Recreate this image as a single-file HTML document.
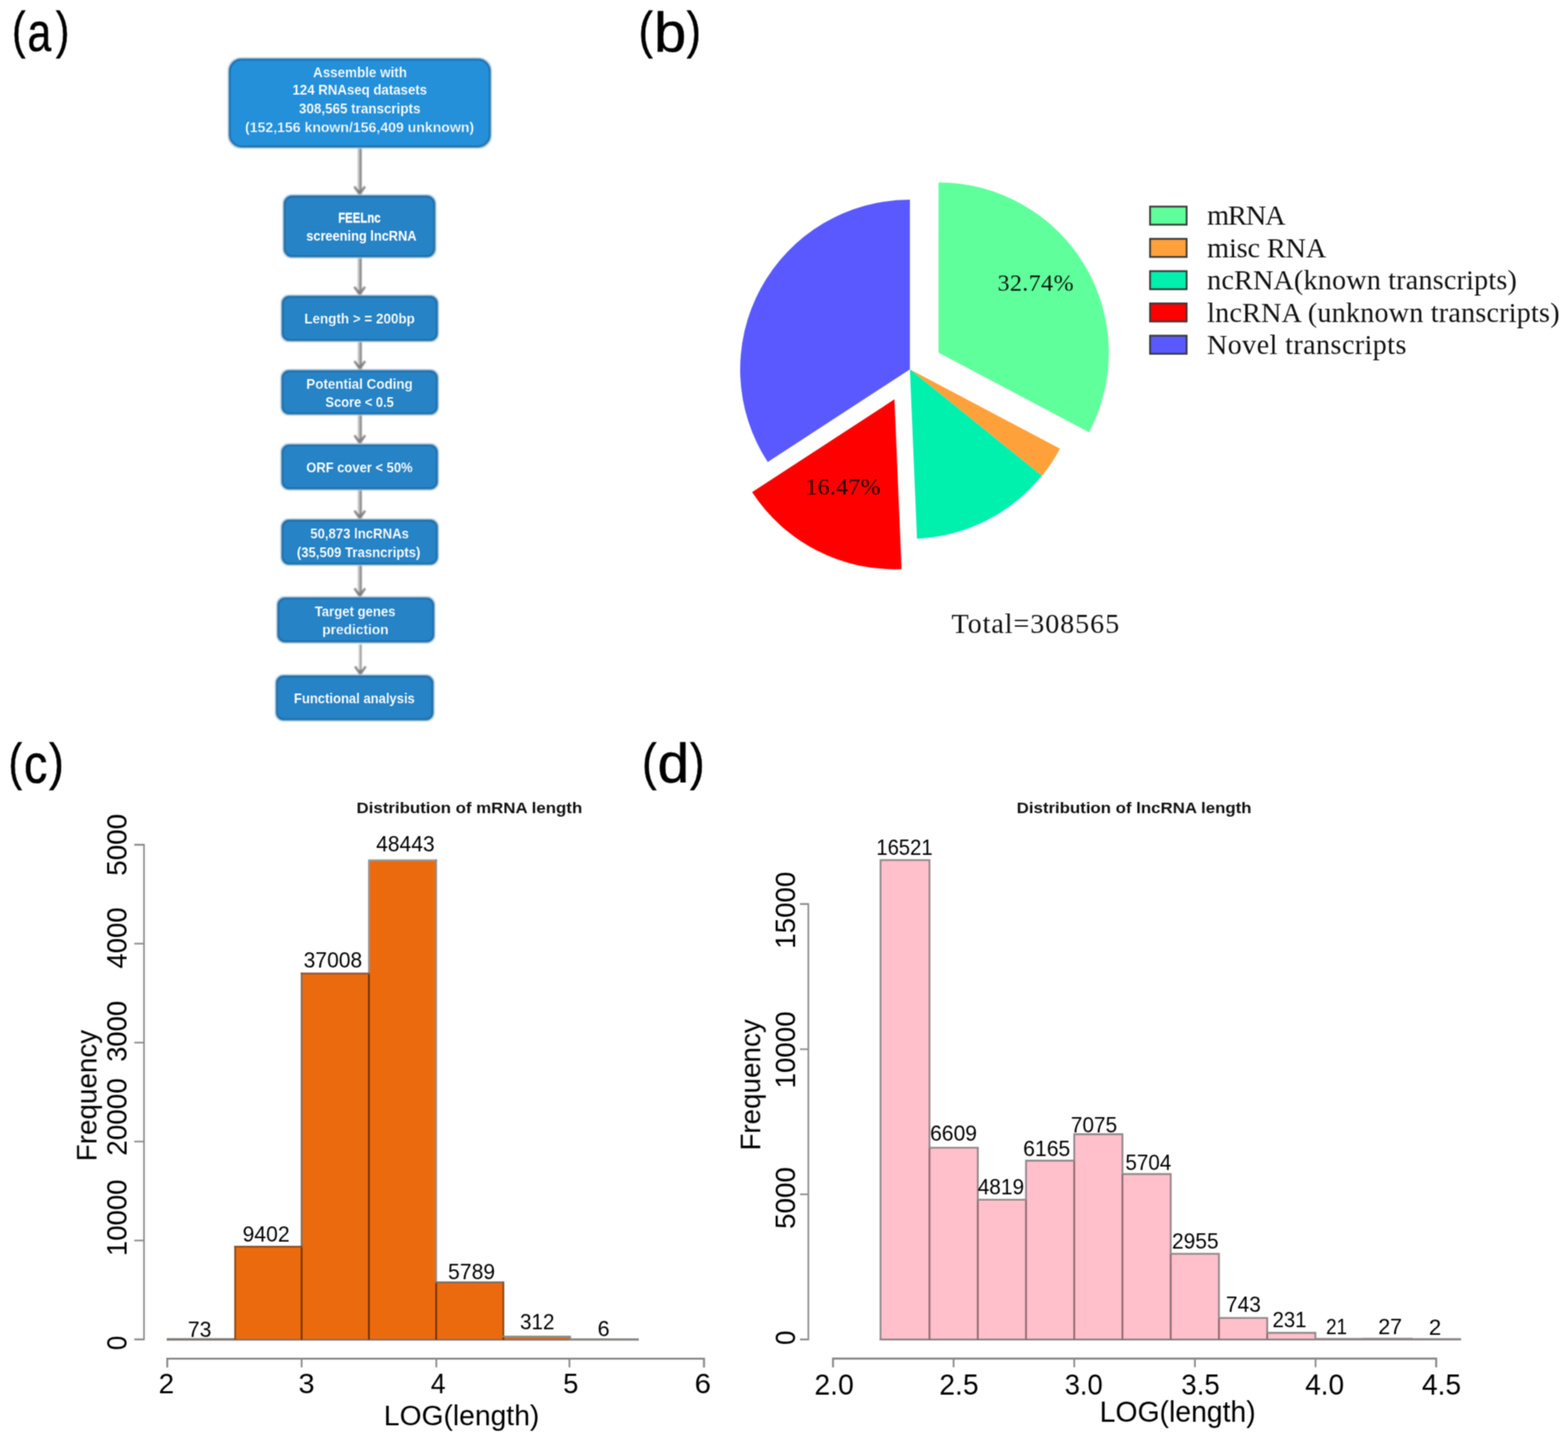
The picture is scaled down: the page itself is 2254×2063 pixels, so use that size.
<!DOCTYPE html>
<html lang="en">
<head>
<meta charset="utf-8">
<title>lncRNA identification pipeline, transcript composition and length distributions</title>
<style>
html,body{margin:0;padding:0;background:#fff;}
body{width:2254px;height:2063px;overflow:hidden;}
svg{display:block;}
text{white-space:pre;}
</style>
</head>
<body>
<svg width="2254" height="2063" viewBox="0 0 2254 2063">
<rect width="2254" height="2063" fill="#fff"/>
<defs>
<filter id="soft-a" x="-5%" y="-5%" width="110%" height="110%" color-interpolation-filters="sRGB"><feGaussianBlur stdDeviation="0.9"/></filter>
<filter id="soft-b" x="-5%" y="-5%" width="110%" height="110%" color-interpolation-filters="sRGB"><feConvolveMatrix order="3" kernelMatrix="1 2 1 2 4 2 1 2 1" divisor="16" edgeMode="duplicate" preserveAlpha="false"/></filter>
<filter id="soft-c" x="-5%" y="-5%" width="110%" height="110%" color-interpolation-filters="sRGB"><feConvolveMatrix order="3" kernelMatrix="1 2 1 2 4 2 1 2 1" divisor="16" edgeMode="duplicate" preserveAlpha="false"/></filter>
<filter id="soft-l" x="-5%" y="-5%" width="110%" height="110%" color-interpolation-filters="sRGB"><feConvolveMatrix order="3" kernelMatrix="1 2 1 2 4 2 1 2 1" divisor="16" edgeMode="duplicate" preserveAlpha="false"/></filter>
<filter id="soft-t" x="-5%" y="-5%" width="110%" height="110%" color-interpolation-filters="sRGB"><feConvolveMatrix order="3" kernelMatrix="1 2 1 2 4 2 1 2 1" divisor="16" edgeMode="duplicate" preserveAlpha="false"/></filter>
</defs>
<g id="panel-a">
<g filter="url(#soft-a)">
<path d="M518.40 210.9 V282.1" stroke="#858585" stroke-width="3.0" fill="none"/>
<path d="M515.50 210.9 V276.1" stroke="#c6c6c6" stroke-width="2.9" fill="none"/>
<path d="M509.40 268.1 L517.00 279.1 L524.60 268.1" fill="none" stroke="#808080" stroke-width="3.2"/>
<path d="M512.80 273.1 H521.20 L517.00 280.6 Z" fill="#808080"/>
<path d="M518.40 368.7 V426.3" stroke="#858585" stroke-width="3.0" fill="none"/>
<path d="M515.50 368.7 V420.3" stroke="#c6c6c6" stroke-width="2.9" fill="none"/>
<path d="M509.40 412.3 L517.00 423.3 L524.60 412.3" fill="none" stroke="#808080" stroke-width="3.2"/>
<path d="M512.80 417.3 H521.20 L517.00 424.8 Z" fill="#808080"/>
<path d="M518.60 489.3 V533.2" stroke="#858585" stroke-width="3.0" fill="none"/>
<path d="M515.70 489.3 V527.2" stroke="#c6c6c6" stroke-width="2.9" fill="none"/>
<path d="M509.60 519.2 L517.20 530.2 L524.80 519.2" fill="none" stroke="#808080" stroke-width="3.2"/>
<path d="M513.00 524.2 H521.40 L517.20 531.7 Z" fill="#808080"/>
<path d="M518.60 594.8 V639.9" stroke="#858585" stroke-width="3.0" fill="none"/>
<path d="M515.70 594.8 V633.9" stroke="#c6c6c6" stroke-width="2.9" fill="none"/>
<path d="M509.60 625.9 L517.20 636.9 L524.80 625.9" fill="none" stroke="#808080" stroke-width="3.2"/>
<path d="M513.00 630.9 H521.40 L517.20 638.4 Z" fill="#808080"/>
<path d="M518.60 702.5 V748.1" stroke="#858585" stroke-width="3.0" fill="none"/>
<path d="M515.70 702.5 V742.1" stroke="#c6c6c6" stroke-width="2.9" fill="none"/>
<path d="M509.60 734.1 L517.20 745.1 L524.80 734.1" fill="none" stroke="#808080" stroke-width="3.2"/>
<path d="M513.00 739.1 H521.40 L517.20 746.6 Z" fill="#808080"/>
<path d="M518.60 810.7 V859.9" stroke="#858585" stroke-width="3.0" fill="none"/>
<path d="M515.70 810.7 V853.9" stroke="#c6c6c6" stroke-width="2.9" fill="none"/>
<path d="M509.60 845.9 L517.20 856.9 L524.80 845.9" fill="none" stroke="#808080" stroke-width="3.2"/>
<path d="M513.00 850.9 H521.40 L517.20 858.4 Z" fill="#808080"/>
<path d="M518.60 926.5 V972.1" stroke="#858585" stroke-width="2.2" fill="none"/>
<path d="M516.50 926.5 V966.1" stroke="#d0d0d0" stroke-width="2.0" fill="none"/>
<path d="M510.40 958.1 L518.00 969.1 L525.60 958.1" fill="none" stroke="#808080" stroke-width="3.2"/>
<path d="M513.80 963.1 H522.20 L518.00 970.6 Z" fill="#808080"/>
<rect x="328.40" y="83.70" width="377.50" height="128.80" rx="17.6" fill="none" stroke="#bcd6ea" stroke-width="2.4"/>
<rect x="330.10" y="85.40" width="374.10" height="125.40" rx="17" fill="#2490DA" stroke="#17629a" stroke-width="2.2"/>
<rect x="407.20" y="280.50" width="219.00" height="89.80" rx="11.6" fill="none" stroke="#bcd6ea" stroke-width="2.4"/>
<rect x="408.90" y="282.20" width="215.60" height="86.40" rx="11" fill="#2683C5" stroke="#17629a" stroke-width="2.2"/>
<rect x="404.40" y="424.70" width="225.50" height="66.20" rx="10.6" fill="none" stroke="#bcd6ea" stroke-width="2.4"/>
<rect x="406.10" y="426.40" width="222.10" height="62.80" rx="10" fill="#2683C5" stroke="#17629a" stroke-width="2.2"/>
<rect x="404.10" y="531.60" width="225.80" height="64.80" rx="10.6" fill="none" stroke="#bcd6ea" stroke-width="2.4"/>
<rect x="405.80" y="533.30" width="222.40" height="61.40" rx="10" fill="#2683C5" stroke="#17629a" stroke-width="2.2"/>
<rect x="404.10" y="638.30" width="225.80" height="65.80" rx="10.6" fill="none" stroke="#bcd6ea" stroke-width="2.4"/>
<rect x="405.80" y="640.00" width="222.40" height="62.40" rx="10" fill="#2683C5" stroke="#17629a" stroke-width="2.2"/>
<rect x="404.10" y="746.50" width="225.80" height="65.80" rx="10.6" fill="none" stroke="#bcd6ea" stroke-width="2.4"/>
<rect x="405.80" y="748.20" width="222.40" height="62.40" rx="10" fill="#2683C5" stroke="#17629a" stroke-width="2.2"/>
<rect x="398.15" y="858.30" width="226.65" height="65.80" rx="10.6" fill="none" stroke="#bcd6ea" stroke-width="2.4"/>
<rect x="399.85" y="860.00" width="223.25" height="62.40" rx="10" fill="#2683C5" stroke="#17629a" stroke-width="2.2"/>
<rect x="396.10" y="970.50" width="227.60" height="65.50" rx="10.6" fill="none" stroke="#bcd6ea" stroke-width="2.4"/>
<rect x="397.80" y="972.20" width="224.20" height="62.10" rx="10" fill="#2683C5" stroke="#17629a" stroke-width="2.2"/>
</g>
<g filter="url(#soft-t)">
<text x="449.97" y="110.70" font-family="'Liberation Sans', Arial, Helvetica, sans-serif" font-size="20.5" font-weight="bold" fill="#fff" textLength="134.98" lengthAdjust="spacingAndGlyphs" stroke="#2490DA" stroke-width="0.22">Assemble with</text>
<text x="420.51" y="136.10" font-family="'Liberation Sans', Arial, Helvetica, sans-serif" font-size="20.5" font-weight="bold" fill="#fff" textLength="193.38" lengthAdjust="spacingAndGlyphs" stroke="#2490DA" stroke-width="0.18">124 RNAseq datasets</text>
<text x="429.77" y="162.90" font-family="'Liberation Sans', Arial, Helvetica, sans-serif" font-size="20.5" font-weight="bold" fill="#fff" textLength="174.63" lengthAdjust="spacingAndGlyphs" stroke="#2490DA" stroke-width="0.22">308,565 transcripts</text>
<text x="352.19" y="189.60" font-family="'Liberation Sans', Arial, Helvetica, sans-serif" font-size="20.5" font-weight="bold" fill="#fff" textLength="329.36" lengthAdjust="spacingAndGlyphs" stroke="#2490DA" stroke-width="0.35">(152,156 known/156,409 unknown)</text>
<text x="486.14" y="320.40" font-family="'Liberation Sans', Arial, Helvetica, sans-serif" font-size="20.5" font-weight="bold" fill="#fff" textLength="60.92" lengthAdjust="spacingAndGlyphs" stroke="#fff" stroke-width="0.35">FEELnc</text>
<text x="440.26" y="346.10" font-family="'Liberation Sans', Arial, Helvetica, sans-serif" font-size="20.5" font-weight="bold" fill="#fff" textLength="158.47" lengthAdjust="spacingAndGlyphs">screening lncRNA</text>
<text x="437.55" y="465.30" font-family="'Liberation Sans', Arial, Helvetica, sans-serif" font-size="20.5" font-weight="bold" fill="#fff" textLength="158.76" lengthAdjust="spacingAndGlyphs" stroke="#2683C5" stroke-width="0.22">Length &gt; = 200bp</text>
<text x="440.35" y="559.00" font-family="'Liberation Sans', Arial, Helvetica, sans-serif" font-size="20.5" font-weight="bold" fill="#fff" textLength="152.93" lengthAdjust="spacingAndGlyphs" stroke="#2683C5" stroke-width="0.22">Potential Coding</text>
<text x="467.79" y="585.40" font-family="'Liberation Sans', Arial, Helvetica, sans-serif" font-size="20.5" font-weight="bold" fill="#fff" textLength="98.30" lengthAdjust="spacingAndGlyphs" stroke="#2683C5" stroke-width="0.11">Score &lt; 0.5</text>
<text x="440.15" y="678.75" font-family="'Liberation Sans', Arial, Helvetica, sans-serif" font-size="20.5" font-weight="bold" fill="#fff" textLength="153.03" lengthAdjust="spacingAndGlyphs" stroke="#2683C5" stroke-width="0.13">ORF cover &lt; 50%</text>
<text x="445.93" y="773.90" font-family="'Liberation Sans', Arial, Helvetica, sans-serif" font-size="20.5" font-weight="bold" fill="#fff" textLength="141.96" lengthAdjust="spacingAndGlyphs" stroke="#2683C5" stroke-width="0.17">50,873 lncRNAs</text>
<text x="426.75" y="800.80" font-family="'Liberation Sans', Arial, Helvetica, sans-serif" font-size="20.5" font-weight="bold" fill="#fff" textLength="177.57" lengthAdjust="spacingAndGlyphs" stroke="#2683C5" stroke-width="0.17">(35,509 Trasncripts)</text>
<text x="452.51" y="886.00" font-family="'Liberation Sans', Arial, Helvetica, sans-serif" font-size="20.5" font-weight="bold" fill="#fff" textLength="115.94" lengthAdjust="spacingAndGlyphs" stroke="#2683C5" stroke-width="0.16">Target genes</text>
<text x="463.22" y="912.40" font-family="'Liberation Sans', Arial, Helvetica, sans-serif" font-size="20.5" font-weight="bold" fill="#fff" textLength="95.29" lengthAdjust="spacingAndGlyphs" stroke="#2683C5" stroke-width="0.28">prediction</text>
<text x="422.58" y="1011.10" font-family="'Liberation Sans', Arial, Helvetica, sans-serif" font-size="20.5" font-weight="bold" fill="#fff" textLength="173.68" lengthAdjust="spacingAndGlyphs" stroke="#2683C5" stroke-width="0.14">Functional analysis</text>
</g>
</g>
<g id="panel-b" filter="url(#soft-b)">
<path d="M1349.11 507.03 L1349.11 262.23 A244.8 244.8 0 0 1 1565.54 621.43 Z" fill="#5FFF9B"/>
<path d="M1308.00 531.00 L1523.72 645.02 A244.0 244.0 0 0 1 1497.89 684.22 Z" fill="#FFA13A"/>
<path d="M1308.00 531.00 L1497.58 683.97 A243.6 243.6 0 0 1 1318.20 774.39 Z" fill="#00F0AE"/>
<path d="M1285.79 574.12 L1296.02 818.20 A244.3 244.3 0 0 1 1081.14 707.53 Z" fill="#FF0000"/>
<path d="M1308.00 531.00 L1103.60 664.25 A244.0 244.0 0 0 1 1308.00 287.00 Z" fill="#5959FF"/>
<text x="1433.96" y="418.20" font-family="'Liberation Serif', 'Times New Roman', Times, serif" font-size="34.5" fill="#0c140f" letter-spacing="0.563">32.74%</text>
<text x="1157.78" y="710.90" font-family="'Liberation Serif', 'Times New Roman', Times, serif" font-size="34.5" fill="#140000" letter-spacing="0.299">16.47%</text>
<text x="1367.79" y="910.30" font-family="'Liberation Serif', 'Times New Roman', Times, serif" font-size="40.5" fill="#111" letter-spacing="1.284">Total=308565</text>
<rect x="1653.2" y="297.0" width="52.6" height="26.0" fill="#5FFF9B" stroke="#3a3a3a" stroke-width="2.6"/>
<text x="1735.29" y="323.30" font-family="'Liberation Serif', 'Times New Roman', Times, serif" font-size="40.5" fill="#111" letter-spacing="-1.444">mRNA</text>
<rect x="1653.2" y="343.4" width="52.6" height="26.0" fill="#FFA13A" stroke="#3a3a3a" stroke-width="2.6"/>
<text x="1735.29" y="369.70" font-family="'Liberation Serif', 'Times New Roman', Times, serif" font-size="40.5" fill="#111" letter-spacing="-0.144">misc RNA</text>
<rect x="1653.2" y="389.8" width="52.6" height="26.0" fill="#00F0AE" stroke="#3a3a3a" stroke-width="2.6"/>
<text x="1735.19" y="416.10" font-family="'Liberation Serif', 'Times New Roman', Times, serif" font-size="40.5" fill="#111" letter-spacing="0.235">ncRNA(known transcripts)</text>
<rect x="1653.2" y="436.2" width="52.6" height="26.0" fill="#FF0000" stroke="#3a3a3a" stroke-width="2.6"/>
<text x="1735.29" y="462.50" font-family="'Liberation Serif', 'Times New Roman', Times, serif" font-size="40.5" fill="#111" letter-spacing="0.265">lncRNA (unknown transcripts)</text>
<rect x="1653.2" y="482.6" width="52.6" height="26.0" fill="#5959FF" stroke="#3a3a3a" stroke-width="2.6"/>
<text x="1734.99" y="508.90" font-family="'Liberation Serif', 'Times New Roman', Times, serif" font-size="40.5" fill="#111" letter-spacing="0.556">Novel transcripts</text>
</g>
<g id="panel-c" filter="url(#soft-c)">
<text x="512.53" y="1168.90" font-family="'Liberation Sans', Arial, Helvetica, sans-serif" font-size="22" font-weight="bold" fill="#111" textLength="324.45" lengthAdjust="spacingAndGlyphs">Distribution of mRNA length</text>
<rect x="241.00" y="1924.96" width="97.00" height="1.04" fill="#EC6A0E"/>
<rect x="338.00" y="1792.21" width="95.60" height="133.79" fill="#EC6A0E"/>
<rect x="433.60" y="1399.38" width="96.70" height="526.62" fill="#EC6A0E"/>
<rect x="530.30" y="1236.66" width="96.70" height="689.34" fill="#EC6A0E"/>
<rect x="627.00" y="1843.62" width="96.60" height="82.38" fill="#EC6A0E"/>
<rect x="723.60" y="1921.56" width="96.00" height="4.44" fill="#EC6A0E"/>
<rect x="819.60" y="1925.20" width="97.30" height="0.80" fill="#EC6A0E"/>
<path d="M239.75 1926.00H918.15" stroke="#7c726c" stroke-width="2.5" fill="none"/>
<path d="M338.00 1926.00V1924.96M433.60 1926.00V1792.21M530.30 1926.00V1399.38M627.00 1926.00V1843.62M723.60 1926.00V1921.56M819.60 1926.00V1925.20" stroke="#6e3206" stroke-width="2.5" fill="none"/>
<path d="M241.00 1927.25V1923.71M239.75 1924.96H339.25" stroke="#7f7a76" stroke-width="2.5" fill="none"/>
<path d="M338.00 1926.21V1790.96" stroke="#8a4a18" stroke-width="2.5" fill="none"/>
<path d="M433.60 1793.46V1398.13" stroke="#826858" stroke-width="2.5" fill="none"/>
<path d="M530.30 1400.63V1235.41M529.05 1236.66H628.25" stroke="#979797" stroke-width="2.5" fill="none"/>
<path d="M627.00 1844.87V1235.41" stroke="#8e8e8e" stroke-width="2.5" fill="none"/>
<path d="M723.60 1922.81V1842.37" stroke="#7e4a1e" stroke-width="2.5" fill="none"/>
<path d="M819.60 1926.45V1920.31M916.90 1927.25V1923.95M722.35 1921.56H820.85M818.35 1925.20H918.15" stroke="#8a8a8a" stroke-width="2.5" fill="none"/>
<path d="M336.75 1792.21H434.85" stroke="#8a4c22" stroke-width="2.5" fill="none"/>
<path d="M432.35 1399.38H531.55" stroke="#86583a" stroke-width="2.5" fill="none"/>
<path d="M625.75 1843.62H724.85" stroke="#7a6a5e" stroke-width="2.5" fill="none"/>
<text x="270.08" y="1922.20" font-family="'Liberation Sans', Arial, Helvetica, sans-serif" font-size="30.6" fill="#000" textLength="33.89" lengthAdjust="spacingAndGlyphs">73</text>
<text x="348.63" y="1784.70" font-family="'Liberation Sans', Arial, Helvetica, sans-serif" font-size="30.6" fill="#000" textLength="67.68" lengthAdjust="spacingAndGlyphs">9402</text>
<text x="436.57" y="1390.90" font-family="'Liberation Sans', Arial, Helvetica, sans-serif" font-size="30.6" fill="#000" textLength="84.04" lengthAdjust="spacingAndGlyphs">37008</text>
<text x="540.72" y="1224.20" font-family="'Liberation Sans', Arial, Helvetica, sans-serif" font-size="30.6" fill="#000" textLength="84.09" lengthAdjust="spacingAndGlyphs">48443</text>
<text x="644.08" y="1839.00" font-family="'Liberation Sans', Arial, Helvetica, sans-serif" font-size="30.6" fill="#000" textLength="67.65" lengthAdjust="spacingAndGlyphs">5789</text>
<text x="747.38" y="1911.00" font-family="'Liberation Sans', Arial, Helvetica, sans-serif" font-size="30.6" fill="#000" textLength="49.66" lengthAdjust="spacingAndGlyphs">312</text>
<text x="859.04" y="1921.40" font-family="'Liberation Sans', Arial, Helvetica, sans-serif" font-size="30.6" fill="#000" textLength="17.32" lengthAdjust="spacingAndGlyphs">6</text>
<path d="M193 1925.60 H207 V1214.40 H193" stroke="#8e8e8e" stroke-width="2.4" fill="none"/>
<path d="M207 1925.60 H193" stroke="#8e8e8e" stroke-width="2.4" fill="none"/>
<text x="-1940.90" y="0.00" font-family="'Liberation Sans', Arial, Helvetica, sans-serif" font-size="40.3" fill="#000" textLength="20.74" lengthAdjust="spacingAndGlyphs" transform="translate(182.00 0) rotate(-90)">0</text>
<path d="M207 1783.40 H193" stroke="#8e8e8e" stroke-width="2.4" fill="none"/>
<text x="-1805.77" y="0.00" font-family="'Liberation Sans', Arial, Helvetica, sans-serif" font-size="40.3" fill="#000" textLength="110.09" lengthAdjust="spacingAndGlyphs" transform="translate(182.00 0) rotate(-90)">10000</text>
<path d="M207 1641.10 H193" stroke="#8e8e8e" stroke-width="2.4" fill="none"/>
<text x="-1661.50" y="0.00" font-family="'Liberation Sans', Arial, Helvetica, sans-serif" font-size="40.3" fill="#000" textLength="111.44" lengthAdjust="spacingAndGlyphs" transform="translate(182.00 0) rotate(-90)">20000</text>
<path d="M207 1498.90 H193" stroke="#8e8e8e" stroke-width="2.4" fill="none"/>
<text x="-1526.58" y="0.00" font-family="'Liberation Sans', Arial, Helvetica, sans-serif" font-size="40.3" fill="#000" textLength="87.64" lengthAdjust="spacingAndGlyphs" transform="translate(182.00 0) rotate(-90)">3000</text>
<path d="M207 1356.60 H193" stroke="#8e8e8e" stroke-width="2.4" fill="none"/>
<text x="-1392.59" y="0.00" font-family="'Liberation Sans', Arial, Helvetica, sans-serif" font-size="40.3" fill="#000" textLength="88.06" lengthAdjust="spacingAndGlyphs" transform="translate(182.00 0) rotate(-90)">4000</text>
<path d="M207 1214.40 H193" stroke="#8e8e8e" stroke-width="2.4" fill="none"/>
<text x="-1258.90" y="0.00" font-family="'Liberation Sans', Arial, Helvetica, sans-serif" font-size="40.3" fill="#000" textLength="88.88" lengthAdjust="spacingAndGlyphs" transform="translate(182.00 0) rotate(-90)">5000</text>
<path d="M240.30 1965.8 V1953.3 H1012.00 V1965.8" stroke="#7c7c7c" stroke-width="2.6" fill="none"/>
<path d="M240.30 1953.3 V1965.8" stroke="#8e8e8e" stroke-width="2.6" fill="none"/>
<text x="227.99" y="2003.40" font-family="'Liberation Sans', Arial, Helvetica, sans-serif" font-size="41" fill="#000" textLength="22.37" lengthAdjust="spacingAndGlyphs">2</text>
<path d="M433.60 1953.3 V1965.8" stroke="#8e8e8e" stroke-width="2.6" fill="none"/>
<text x="428.93" y="2003.40" font-family="'Liberation Sans', Arial, Helvetica, sans-serif" font-size="41" fill="#000" textLength="23.30" lengthAdjust="spacingAndGlyphs">3</text>
<path d="M627.20 1953.3 V1965.8" stroke="#8e8e8e" stroke-width="2.6" fill="none"/>
<text x="619.14" y="2003.40" font-family="'Liberation Sans', Arial, Helvetica, sans-serif" font-size="41" fill="#000" textLength="21.37" lengthAdjust="spacingAndGlyphs">4</text>
<path d="M818.60 1953.3 V1965.8" stroke="#8e8e8e" stroke-width="2.6" fill="none"/>
<text x="809.42" y="2003.40" font-family="'Liberation Sans', Arial, Helvetica, sans-serif" font-size="41" fill="#000" textLength="22.01" lengthAdjust="spacingAndGlyphs">5</text>
<path d="M1012.00 1953.3 V1965.8" stroke="#8e8e8e" stroke-width="2.6" fill="none"/>
<text x="998.58" y="2003.40" font-family="'Liberation Sans', Arial, Helvetica, sans-serif" font-size="41" fill="#000" textLength="23.57" lengthAdjust="spacingAndGlyphs">6</text>
<text x="-1669.40" y="0.00" font-family="'Liberation Sans', Arial, Helvetica, sans-serif" font-size="40.3" fill="#000" textLength="188.99" lengthAdjust="spacingAndGlyphs" transform="translate(138.70 0) rotate(-90)">Frequency</text>
<text x="551.85" y="2049.20" font-family="'Liberation Sans', Arial, Helvetica, sans-serif" font-size="41" fill="#000" textLength="223.39" lengthAdjust="spacingAndGlyphs">LOG(length)</text>
</g>
<g id="panel-d" filter="url(#soft-c)">
<text x="1461.53" y="1168.70" font-family="'Liberation Sans', Arial, Helvetica, sans-serif" font-size="22" font-weight="bold" fill="#111" textLength="337.47" lengthAdjust="spacingAndGlyphs">Distribution of lncRNA length</text>
<rect x="1265.80" y="1236.54" width="70.30" height="689.26" fill="#FFC0CB"/>
<rect x="1336.10" y="1650.07" width="69.50" height="275.73" fill="#FFC0CB"/>
<rect x="1405.60" y="1724.75" width="69.30" height="201.05" fill="#FFC0CB"/>
<rect x="1474.90" y="1668.60" width="69.30" height="257.20" fill="#FFC0CB"/>
<rect x="1544.20" y="1630.63" width="69.30" height="295.17" fill="#FFC0CB"/>
<rect x="1613.50" y="1687.83" width="69.40" height="237.97" fill="#FFC0CB"/>
<rect x="1682.90" y="1802.52" width="69.30" height="123.28" fill="#FFC0CB"/>
<rect x="1752.20" y="1894.80" width="69.40" height="31.00" fill="#FFC0CB"/>
<rect x="1821.60" y="1916.16" width="69.30" height="9.64" fill="#FFC0CB"/>
<rect x="1890.90" y="1924.92" width="69.30" height="0.88" fill="#FFC0CB"/>
<rect x="1960.20" y="1924.67" width="69.40" height="1.13" fill="#FFC0CB"/>
<rect x="2029.60" y="1925.00" width="69.30" height="0.80" fill="#FFC0CB"/>
<path d="M1264.50 1925.80H2100.20" stroke="#857f80" stroke-width="2.6" fill="none"/>
<path d="M1336.10 1925.80V1650.07M1405.60 1925.80V1724.75M1474.90 1925.80V1724.75M1544.20 1925.80V1668.60M1613.50 1925.80V1687.83M1682.90 1925.80V1802.52M1752.20 1925.80V1894.80M1821.60 1925.80V1916.16M1890.90 1925.80V1924.92M1960.20 1925.80V1924.92M2029.60 1925.80V1925.00" stroke="#8b6a70" stroke-width="2.6" fill="none"/>
<path d="M1265.80 1927.10V1235.24M1336.10 1651.37V1235.24M1405.60 1726.05V1648.77M1474.90 1726.05V1667.30M1544.20 1669.90V1629.33M1613.50 1689.13V1629.33M1682.90 1803.82V1686.53M1752.20 1896.10V1801.22M1821.60 1917.46V1893.50M1890.90 1926.22V1914.86M1960.20 1926.22V1923.37M2029.60 1926.30V1923.37M2098.90 1927.10V1923.70M1264.50 1236.54H1337.40M1334.80 1650.07H1406.90M1404.30 1724.75H1476.20M1473.60 1668.60H1545.50M1542.90 1630.63H1614.80M1612.20 1687.83H1684.20M1681.60 1802.52H1753.50M1750.90 1894.80H1822.90M1820.30 1916.16H1892.20M1889.60 1924.92H1961.50M1958.90 1924.67H2030.90M2028.30 1925.00H2100.20" stroke="#8f8789" stroke-width="2.6" fill="none"/>
<text x="1259.72" y="1229.10" font-family="'Liberation Sans', Arial, Helvetica, sans-serif" font-size="31.2" fill="#000" textLength="80.89" lengthAdjust="spacingAndGlyphs">16521</text>
<text x="1336.88" y="1640.30" font-family="'Liberation Sans', Arial, Helvetica, sans-serif" font-size="31.2" fill="#000" textLength="67.66" lengthAdjust="spacingAndGlyphs">6609</text>
<text x="1405.42" y="1717.20" font-family="'Liberation Sans', Arial, Helvetica, sans-serif" font-size="31.2" fill="#000" textLength="66.79" lengthAdjust="spacingAndGlyphs">4819</text>
<text x="1470.78" y="1661.80" font-family="'Liberation Sans', Arial, Helvetica, sans-serif" font-size="31.2" fill="#000" textLength="67.81" lengthAdjust="spacingAndGlyphs">6165</text>
<text x="1539.20" y="1627.60" font-family="'Liberation Sans', Arial, Helvetica, sans-serif" font-size="31.2" fill="#000" textLength="66.77" lengthAdjust="spacingAndGlyphs">7075</text>
<text x="1617.71" y="1682.20" font-family="'Liberation Sans', Arial, Helvetica, sans-serif" font-size="31.2" fill="#000" textLength="65.97" lengthAdjust="spacingAndGlyphs">5704</text>
<text x="1684.79" y="1795.30" font-family="'Liberation Sans', Arial, Helvetica, sans-serif" font-size="31.2" fill="#000" textLength="66.98" lengthAdjust="spacingAndGlyphs">2955</text>
<text x="1762.20" y="1885.60" font-family="'Liberation Sans', Arial, Helvetica, sans-serif" font-size="31.2" fill="#000" textLength="50.21" lengthAdjust="spacingAndGlyphs">743</text>
<text x="1829.23" y="1907.90" font-family="'Liberation Sans', Arial, Helvetica, sans-serif" font-size="31.2" fill="#000" textLength="48.99" lengthAdjust="spacingAndGlyphs">231</text>
<text x="1906.24" y="1917.80" font-family="'Liberation Sans', Arial, Helvetica, sans-serif" font-size="31.2" fill="#000" textLength="30.21" lengthAdjust="spacingAndGlyphs">21</text>
<text x="1981.15" y="1917.80" font-family="'Liberation Sans', Arial, Helvetica, sans-serif" font-size="31.2" fill="#000" textLength="34.39" lengthAdjust="spacingAndGlyphs">27</text>
<text x="2054.10" y="1918.60" font-family="'Liberation Sans', Arial, Helvetica, sans-serif" font-size="31.2" fill="#000" textLength="17.75" lengthAdjust="spacingAndGlyphs">2</text>
<path d="M1150 1925.70 H1162 V1299.80 H1150" stroke="#8e8e8e" stroke-width="2.4" fill="none"/>
<path d="M1162 1925.70 H1150" stroke="#8e8e8e" stroke-width="2.4" fill="none"/>
<text x="-1933.39" y="0.00" font-family="'Liberation Sans', Arial, Helvetica, sans-serif" font-size="41" fill="#000" textLength="20.62" lengthAdjust="spacingAndGlyphs" transform="translate(1142.60 0) rotate(-90)">0</text>
<path d="M1162 1717.00 H1150" stroke="#8e8e8e" stroke-width="2.4" fill="none"/>
<text x="-1766.70" y="0.00" font-family="'Liberation Sans', Arial, Helvetica, sans-serif" font-size="41" fill="#000" textLength="88.78" lengthAdjust="spacingAndGlyphs" transform="translate(1142.60 0) rotate(-90)">5000</text>
<path d="M1162 1508.40 H1150" stroke="#8e8e8e" stroke-width="2.4" fill="none"/>
<text x="-1564.69" y="0.00" font-family="'Liberation Sans', Arial, Helvetica, sans-serif" font-size="41" fill="#000" textLength="110.71" lengthAdjust="spacingAndGlyphs" transform="translate(1142.60 0) rotate(-90)">10000</text>
<path d="M1162 1299.80 H1150" stroke="#8e8e8e" stroke-width="2.4" fill="none"/>
<text x="-1363.89" y="0.00" font-family="'Liberation Sans', Arial, Helvetica, sans-serif" font-size="41" fill="#000" textLength="110.71" lengthAdjust="spacingAndGlyphs" transform="translate(1142.60 0) rotate(-90)">15000</text>
<path d="M1197.30 1965.6 V1953.1 H2064.60 V1965.6" stroke="#7c7c7c" stroke-width="2.6" fill="none"/>
<path d="M1197.30 1953.1 V1965.6" stroke="#8e8e8e" stroke-width="2.6" fill="none"/>
<text x="1170.77" y="2005.00" font-family="'Liberation Sans', Arial, Helvetica, sans-serif" font-size="41.6" fill="#000" textLength="56.46" lengthAdjust="spacingAndGlyphs">2.0</text>
<path d="M1370.80 1953.1 V1965.6" stroke="#8e8e8e" stroke-width="2.6" fill="none"/>
<text x="1350.27" y="2005.00" font-family="'Liberation Sans', Arial, Helvetica, sans-serif" font-size="41.6" fill="#000" textLength="56.46" lengthAdjust="spacingAndGlyphs">2.5</text>
<path d="M1544.20 1953.1 V1965.6" stroke="#8e8e8e" stroke-width="2.6" fill="none"/>
<text x="1530.42" y="2005.00" font-family="'Liberation Sans', Arial, Helvetica, sans-serif" font-size="41.6" fill="#000" textLength="54.76" lengthAdjust="spacingAndGlyphs">3.0</text>
<path d="M1717.70 1953.1 V1965.6" stroke="#8e8e8e" stroke-width="2.6" fill="none"/>
<text x="1698.11" y="2005.00" font-family="'Liberation Sans', Arial, Helvetica, sans-serif" font-size="41.6" fill="#000" textLength="55.40" lengthAdjust="spacingAndGlyphs">3.5</text>
<path d="M1891.10 1953.1 V1965.6" stroke="#8e8e8e" stroke-width="2.6" fill="none"/>
<text x="1876.19" y="2005.00" font-family="'Liberation Sans', Arial, Helvetica, sans-serif" font-size="41.6" fill="#000" textLength="56.03" lengthAdjust="spacingAndGlyphs">4.0</text>
<path d="M2064.60 1953.1 V1965.6" stroke="#8e8e8e" stroke-width="2.6" fill="none"/>
<text x="2043.88" y="2005.00" font-family="'Liberation Sans', Arial, Helvetica, sans-serif" font-size="41.6" fill="#000" textLength="56.55" lengthAdjust="spacingAndGlyphs">4.5</text>
<text x="-1654.09" y="0.00" font-family="'Liberation Sans', Arial, Helvetica, sans-serif" font-size="41" fill="#000" textLength="188.68" lengthAdjust="spacingAndGlyphs" transform="translate(1092.80 0) rotate(-90)">Frequency</text>
<text x="1580.74" y="2043.50" font-family="'Liberation Sans', Arial, Helvetica, sans-serif" font-size="41.6" fill="#000" textLength="224.41" lengthAdjust="spacingAndGlyphs">LOG(length)</text>
</g>
<g id="panel-labels" filter="url(#soft-l)">
<text font-family="'Liberation Sans', Arial, Helvetica, sans-serif" fill="#000" stroke="#000" stroke-width="0.7"><tspan x="17.18" y="69.00" font-size="74.5" textLength="19.54" lengthAdjust="spacingAndGlyphs">(</tspan><tspan x="39.58" y="73.30" font-size="77" textLength="34.23" lengthAdjust="spacingAndGlyphs">a</tspan><tspan x="80.21" y="69.00" font-size="74.5" textLength="19.54" lengthAdjust="spacingAndGlyphs">)</tspan></text>
<text font-family="'Liberation Sans', Arial, Helvetica, sans-serif" fill="#000" stroke="#000" stroke-width="0.7"><tspan x="918.00" y="69.00" font-size="74.5" textLength="20.54" lengthAdjust="spacingAndGlyphs">(</tspan><tspan x="940.31" y="73.60" font-size="79" textLength="46.21" lengthAdjust="spacingAndGlyphs">b</tspan><tspan x="987.09" y="69.00" font-size="74.5" textLength="20.67" lengthAdjust="spacingAndGlyphs">)</tspan></text>
<text font-family="'Liberation Sans', Arial, Helvetica, sans-serif" fill="#000" stroke="#000" stroke-width="0.7"><tspan x="12.18" y="1121.20" font-size="74.5" textLength="19.54" lengthAdjust="spacingAndGlyphs">(</tspan><tspan x="34.55" y="1124.60" font-size="77" textLength="33.53" lengthAdjust="spacingAndGlyphs">c</tspan><tspan x="70.38" y="1121.20" font-size="74.5" textLength="21.29" lengthAdjust="spacingAndGlyphs">)</tspan></text>
<text font-family="'Liberation Sans', Arial, Helvetica, sans-serif" fill="#000" stroke="#000" stroke-width="0.7"><tspan x="922.93" y="1121.20" font-size="74.5" textLength="20.91" lengthAdjust="spacingAndGlyphs">(</tspan><tspan x="945.24" y="1124.60" font-size="79" textLength="45.35" lengthAdjust="spacingAndGlyphs">d</tspan><tspan x="991.78" y="1121.20" font-size="74.5" textLength="21.04" lengthAdjust="spacingAndGlyphs">)</tspan></text>
</g>
</svg>
</body>
</html>
